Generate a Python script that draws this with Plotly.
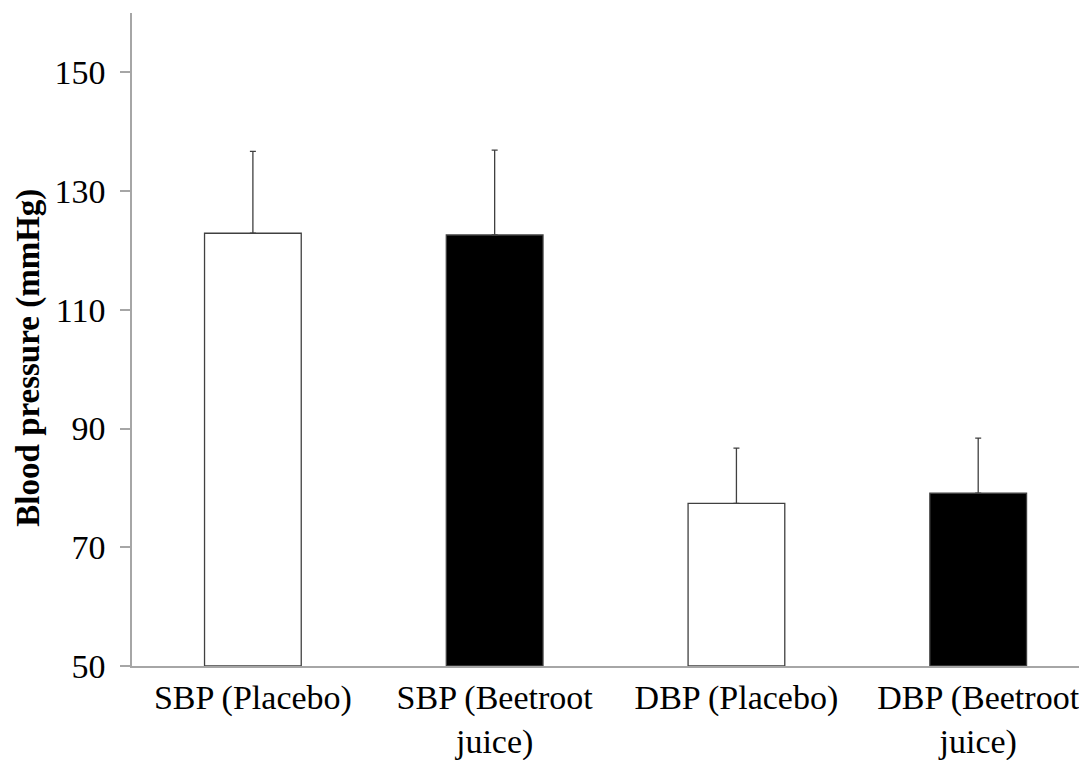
import plotly.graph_objects as go

categories = ["SBP (Placebo)", "SBP (Beetroot<br>juice)", "DBP (Placebo)", "DBP (Beetroot<br>juice)"]
means = [122.9, 122.6, 77.4, 79.1]
errors = [13.8, 14.3, 9.3, 9.3]
fill_colors = ["#ffffff", "#000000", "#ffffff", "#000000"]
y_ticks = [50, 70, 90, 110, 130, 150]
y_title = "Blood pressure (mmHg)"

fig = go.Figure()
fig.add_trace(go.Bar(
    x=list(range(len(categories))),
    y=[m - 50 for m in means],
    base=50,
    width=0.40,
    marker=dict(color=fill_colors, line=dict(color="#404040", width=1.3)),
    error_y=dict(type="data", array=errors, symmetric=False, arrayminus=[0]*4,
                 color="#404040", thickness=1.3, width=3),
    showlegend=False,
))

font_family = "Liberation Serif, Times New Roman, serif"
fig.update_layout(
    width=1079, height=752,
    margin=dict(l=124, r=0, t=5, b=94),
    paper_bgcolor="white", plot_bgcolor="white",
    font=dict(family=font_family, size=34, color="#000000"),
)
fig.update_xaxes(
    range=[-0.5, 3.45],
    tickmode="array", tickvals=list(range(len(categories))), ticktext=categories,
    showline=True, linecolor="#a6a6a6", linewidth=1.5,
    ticks="", showgrid=False, zeroline=False,
    tickfont=dict(family=font_family, size=34),
)
fig.update_yaxes(
    range=[50, 160],
    tickmode="array", tickvals=y_ticks,
    showline=True, linecolor="#a6a6a6", linewidth=1.5,
    ticks="outside", ticklen=10, tickcolor="#a6a6a6", tickwidth=1.5,
    showgrid=False, zeroline=False,
    tickfont=dict(family=font_family, size=34),
    ticklabelstandoff=8,
)
fig.add_annotation(
    text="<b>" + y_title + "</b>", textangle=-90,
    xref="paper", yref="paper", x=-0.108, y=0.472,
    xanchor="center", yanchor="middle", showarrow=False, borderpad=0,
    font=dict(family=font_family, size=33, color="#000000"),
)
fig.write_html("out.html")
